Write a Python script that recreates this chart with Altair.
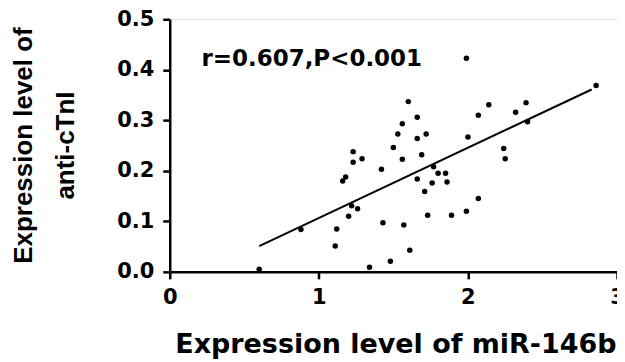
import altair as alt
import pandas as pd

# miR-146b expression (x) vs anti-cTnI expression (y)
mir146b = [0.60, 0.88, 1.11, 1.12, 1.16, 1.18, 1.20, 1.22, 1.23, 1.23, 1.26, 1.29,
           1.34, 1.42, 1.43, 1.48, 1.50, 1.53, 1.56, 1.56, 1.57, 1.60, 1.61, 1.66,
           1.66, 1.66, 1.69, 1.71, 1.72, 1.73, 1.76, 1.77, 1.80, 1.85, 1.86, 1.89,
           1.99, 2.00, 1.99, 2.07, 2.07, 2.14, 2.24, 2.25, 2.32, 2.39, 2.40, 2.86]
anti_ctni = [0.005, 0.084, 0.051, 0.085, 0.180, 0.188, 0.110, 0.131, 0.238, 0.217, 0.125, 0.224,
             0.009, 0.203, 0.097, 0.021, 0.246, 0.273, 0.293, 0.223, 0.093, 0.337, 0.043, 0.184,
             0.306, 0.264, 0.232, 0.159, 0.273, 0.112, 0.176, 0.208, 0.195, 0.195, 0.178, 0.112,
             0.423, 0.267, 0.120, 0.310, 0.145, 0.331, 0.244, 0.224, 0.316, 0.335, 0.297, 0.369]

fit_x = [0.60, 2.83]
fit_y = [0.051, 0.361]

annot_text = ["r=0.607,P<0.001"]
annot_x = [0.213]
annot_y = [0.421]

pts = pd.DataFrame({"x": mir146b, "y": anti_ctni})
fit = pd.DataFrame({"x": fit_x, "y": fit_y})
ann = pd.DataFrame({"x": annot_x, "y": annot_y, "t": annot_text})

xscale = alt.Scale(domain=[0, 3], nice=False, zero=False)
yscale = alt.Scale(domain=[0, 0.5], nice=False, zero=False)

xaxis = alt.Axis(
    title="Expression level of miR-146b",
    values=[0, 1, 2, 3], format="d", grid=False,
    domainColor="black", domainWidth=2.5, tickColor="black", tickWidth=2.5, tickSize=7,
    labelFont="DejaVu Sans", labelFontSize=21, labelFontWeight="bold", labelColor="black",
    labelPadding=8, labelFlush=False, labelOverlap=False,
    titleFont="DejaVu Sans", titleFontSize=27, titleFontWeight="bold", titleColor="black",
    titleX=226, titleY=81, titleAlign="center", titleBaseline="alphabetic",
)
yaxis = alt.Axis(
    title=["Expression level of", "anti-cTnI"],
    values=[0, 0.1, 0.2, 0.3, 0.4, 0.5], format=".1f", grid=False,
    domainColor="black", domainWidth=2.5, tickColor="black", tickWidth=2.5, tickSize=7,
    labelFont="DejaVu Sans", labelFontSize=21, labelFontWeight="bold", labelColor="black",
    labelPadding=9, labelFlush=False, labelOverlap=False,
    titleFont="Liberation Sans", titleFontSize=26, titleFontWeight="bold", titleColor="black",
    titleLineHeight=42, titleAngle=270, titleAlign="center", titleBaseline="top",
    titleX=-159, titleY=126,
)

points = alt.Chart(pts).mark_circle(size=30, color="black", opacity=1).encode(
    x=alt.X("x:Q", scale=xscale, axis=xaxis),
    y=alt.Y("y:Q", scale=yscale, axis=yaxis),
)
line = alt.Chart(fit).mark_line(color="black", strokeWidth=2).encode(
    x=alt.X("x:Q", scale=xscale),
    y=alt.Y("y:Q", scale=yscale),
)
text = alt.Chart(ann).mark_text(
    font="DejaVu Sans", fontSize=23, fontWeight="bold", color="black",
    align="left", baseline="middle",
).encode(
    x=alt.X("x:Q", scale=xscale),
    y=alt.Y("y:Q", scale=yscale),
    text="t:N",
)

chart = alt.layer(line, points, text).properties(
    width=448, height=253,
    autosize=alt.AutoSizeParams(type="none"),
    padding={"left": 162, "top": 11, "right": 0, "bottom": 90},
).configure_view(stroke=None).configure(background="white")

chart.save("out.html", embed_options={"renderer": "svg", "actions": False})
